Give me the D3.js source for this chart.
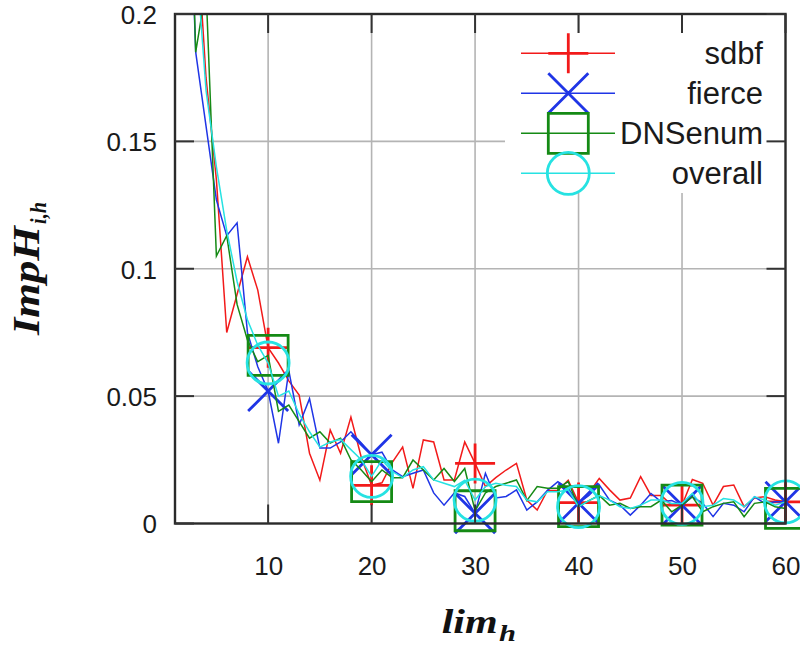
<!DOCTYPE html>
<html><head><meta charset="utf-8">
<script src="https://cdn.jsdelivr.net/npm/d3@7"></script>
<style>
html,body{margin:0;padding:0;background:#fff;}
svg{display:block;}
</style>
</head><body>
<svg id="chart" width="800" height="648"></svg>
<script>
// ---- data ----
const xValues = d3.range(2, 61); // lim_h = 2..60
const sdbf = [0.33,0.24,0.175,0.135,0.075,0.09,0.1047,0.0916,0.069,
  0.063,0.056,0.0504,0.0276,0.017,0.0367,0.0276,0.0418,0.026,0.015,
  0.016,0.024,0.030,0.0138,0.0328,0.032,0.0171,0.0171,0.032,0.0236,
  0.0145,0.018,0.021,0.0236,0.0092,0.0053,0.013,0.013,0.017,0.0082,
  0.012,0.0177,0.0132,0.0092,0.010,0.0184,0.011,0.011,0.0072,0.0072,
  0.0173,0.0158,0.0072,0.0145,0.0151,0.0066,0.010,0.0105,0.0092,0.0085];
const fierce = [0.30,0.185,0.156,0.127,0.113,0.118,0.075,0.0615,0.052,
  0.0315,0.060,0.0387,0.049,0.0296,0.0296,0.032,0.036,0.0316,0.027,
  0.028,0.021,0.0184,0.0197,0.021,0.012,0.0072,0.012,0.0106,0.004,
  0.0197,0.010,0.0106,0.0132,0.0053,0.0085,0.013,0.0164,0.0138,0.008,
  0.011,0.0151,0.0092,0.0072,0.0033,0.0072,0.0118,0.0085,0.009,0.0072,
  0.0105,0.0079,0.0027,0.0079,0.0072,0.0046,0.0105,0.0079,0.0085,0.0085];
const dnsenum = [0.32,0.185,0.21,0.105,0.113,0.086,0.072,0.0635,0.066,
  0.044,0.0465,0.040,0.0335,0.036,0.0316,0.0335,0.025,0.021,0.0164,
  0.021,0.018,0.018,0.0249,0.021,0.0171,0.0216,0.0165,0.0216,0.005,
  0.012,0.0145,0.0158,0.0171,0.009,0.0145,0.0138,0.0138,0.0164,0.0066,
  0.009,0.011,0.0072,0.0079,0.0059,0.0066,0.0066,0.0092,0.0046,0.0072,
  0.0105,0.0046,0.0066,0.0079,0.0085,0.0027,0.0079,0.0085,0.0066,0.0059];
const overall = [0.31,0.225,0.17,0.14,0.115,0.095,0.08,0.07,0.063,
  0.050,0.052,0.043,0.036,0.030,0.032,0.033,0.029,0.025,0.0185,
  0.0249,0.0204,0.018,0.021,0.0223,0.0171,0.0158,0.0145,0.017,0.0092,
  0.0145,0.0158,0.015,0.0145,0.0092,0.0085,0.0125,0.0125,0.0132,0.0066,
  0.009,0.011,0.0092,0.0066,0.0059,0.0072,0.0092,0.0092,0.0079,0.0079,
  0.0118,0.0066,0.0072,0.0098,0.0092,0.0066,0.0105,0.0092,0.0072,0.0085];
const seriesNames = ["sdbf","fierce","DNSenum","overall"];
const xTickValues = [10,20,30,40,50,60];
const yTickValues = [0,0.05,0.1,0.15,0.2];
const yTickLabels = ["0","0.05","0.1","0.15","0.2"];
const markerX = [10,20,30,40,50,60];

// ---- styling / layout ----
const colors = ["#f21a1a","#1f35e6","#158a15","#26e2e2"];
const shapes = ["plus","cross","square","circle"];
const allSeries = [sdbf, fierce, dnsenum, overall];
const L = 175, R = 785.5, T = 14, B = 523.5;

const svg = d3.select("#chart");
const x = d3.scaleLinear().domain([1,60]).range([L,R]);
const y = d3.scaleLinear().domain([0,0.2]).range([B,T]);

// grid
const gridColor = "#b4b4b4";
svg.append("g").selectAll("line").data(xTickValues.filter(v=>v<60)).join("line")
  .attr("x1",d=>x(d)).attr("x2",d=>x(d)).attr("y1",T).attr("y2",B)
  .attr("stroke",gridColor).attr("stroke-width",1.6);
svg.append("g").selectAll("line").data(yTickValues.filter(v=>v>0&&v<0.2)).join("line")
  .attr("y1",d=>y(d)).attr("y2",d=>y(d)).attr("x1",L).attr("x2",R)
  .attr("stroke",gridColor).attr("stroke-width",1.6);

// clip for lines
svg.append("clipPath").attr("id","plotclip").append("rect")
  .attr("x",L).attr("y",T).attr("width",R-L).attr("height",B-T);

const line = d3.line().x((d,i)=>x(xValues[i])).y(d=>y(d));

function markerPath(shape, s){
  if(shape==="plus") return `M${-s},0H${s}M0,${-s}V${s}`;
  if(shape==="cross") return `M${-s},${-s}L${s},${s}M${-s},${s}L${s},${-s}`;
  if(shape==="square") return `M${-s},${-s}H${s}V${s}H${-s}Z`;
  return d3.path ? (()=>{const p=d3.path(); p.arc(0,0,s+1,0,2*Math.PI); return p.toString();})() : "";
}

// legend background (opaque key)
svg.append("rect").attr("x",505).attr("y",33).attr("width",R-505).attr("height",160).attr("fill","#fff");

// series lines + markers
allSeries.forEach((vals,k)=>{
  svg.append("path").datum(vals).attr("d",line)
    .attr("fill","none").attr("stroke",colors[k]).attr("stroke-width",1.5)
    .attr("stroke-linejoin","miter").attr("clip-path","url(#plotclip)");
  svg.append("g").selectAll("path").data(markerX).join("path")
    .attr("transform",d=>`translate(${x(d)},${y(vals[xValues.indexOf(d)])})`)
    .attr("d",markerPath(shapes[k],20))
    .attr("fill","none").attr("stroke",colors[k]).attr("stroke-width",2.8);
});

// legend entries
const legY = [53.3,93.3,133.3,173.3];
seriesNames.forEach((name,k)=>{
  svg.append("line").attr("x1",521).attr("x2",615).attr("y1",legY[k]).attr("y2",legY[k])
    .attr("stroke",colors[k]).attr("stroke-width",1.5);
  svg.append("path").attr("transform",`translate(568.3,${legY[k]})`)
    .attr("d",markerPath(shapes[k],20))
    .attr("fill","none").attr("stroke",colors[k]).attr("stroke-width",2.8);
  svg.append("text").attr("x",763).attr("y",legY[k]).attr("dy","0.36em")
    .attr("text-anchor","end").attr("font-family","Liberation Sans, Arial, sans-serif")
    .attr("font-size",31).attr("fill","#1a1a1a").text(name);
});

// border
svg.append("rect").attr("x",L).attr("y",T).attr("width",R-L).attr("height",B-T)
  .attr("fill","none").attr("stroke","#2a2a2a").attr("stroke-width",2.4);

// tick marks (inward, all four sides)
const tk = 19, tickColor = "#333";
const tg = svg.append("g").attr("stroke",tickColor).attr("stroke-width",2);
xTickValues.forEach(v=>{
  tg.append("line").attr("x1",x(v)).attr("x2",x(v)).attr("y1",B).attr("y2",B-tk);
  tg.append("line").attr("x1",x(v)).attr("x2",x(v)).attr("y1",T).attr("y2",T+tk);
});
yTickValues.forEach(v=>{
  tg.append("line").attr("x1",L).attr("x2",L+tk).attr("y1",y(v)).attr("y2",y(v));
  tg.append("line").attr("x1",R).attr("x2",R-tk).attr("y1",y(v)).attr("y2",y(v));
});

// axes labels via d3 axes
const xAxis = d3.axisBottom(x).tickValues(xTickValues).tickSize(0).tickPadding(0).tickFormat(d3.format("d"));
const gx = svg.append("g").attr("transform",`translate(0,${B})`).call(xAxis);
gx.select(".domain").remove();
gx.selectAll("text").attr("font-family","Liberation Sans, Arial, sans-serif").attr("font-size",26)
  .attr("fill","#1a1a1a").attr("dy",null).attr("y",51);

const yAxis = d3.axisLeft(y).tickValues(yTickValues).tickSize(0).tickPadding(0)
  .tickFormat((d,i)=>yTickLabels[i]);
const gy = svg.append("g").attr("transform",`translate(157,0)`).call(yAxis);
gy.select(".domain").remove();
gy.selectAll("text").attr("font-family","Liberation Sans, Arial, sans-serif").attr("font-size",26)
  .attr("fill","#1a1a1a").attr("x",0).attr("dy","0.36em");

// axis titles
const mathFont = "Liberation Serif, DejaVu Serif, serif";
svg.append("text").attr("x",441.7).attr("y",633).attr("font-family",mathFont)
  .attr("font-weight","bold").attr("font-style","italic").attr("font-size",34)
  .attr("textLength",56).attr("lengthAdjust","spacingAndGlyphs").attr("fill","#111").text("lim");
svg.append("text").attr("x",499).attr("y",641).attr("font-family",mathFont)
  .attr("font-weight","bold").attr("font-style","italic").attr("font-size",24)
  .attr("textLength",17).attr("lengthAdjust","spacingAndGlyphs").attr("fill","#111").text("h");

svg.append("text").attr("transform","translate(39,335) rotate(-90)").attr("font-family",mathFont)
  .attr("font-weight","bold").attr("font-style","italic").attr("font-size",37)
  .attr("textLength",109).attr("lengthAdjust","spacingAndGlyphs").attr("fill","#111").text("ImpH");
svg.append("text").attr("transform","translate(46,224) rotate(-90)").attr("font-family",mathFont)
  .attr("font-weight","bold").attr("font-style","italic").attr("font-size",24)
  .attr("textLength",22).attr("lengthAdjust","spacingAndGlyphs").attr("fill","#111").text("i,h");
</script>
</body></html>
